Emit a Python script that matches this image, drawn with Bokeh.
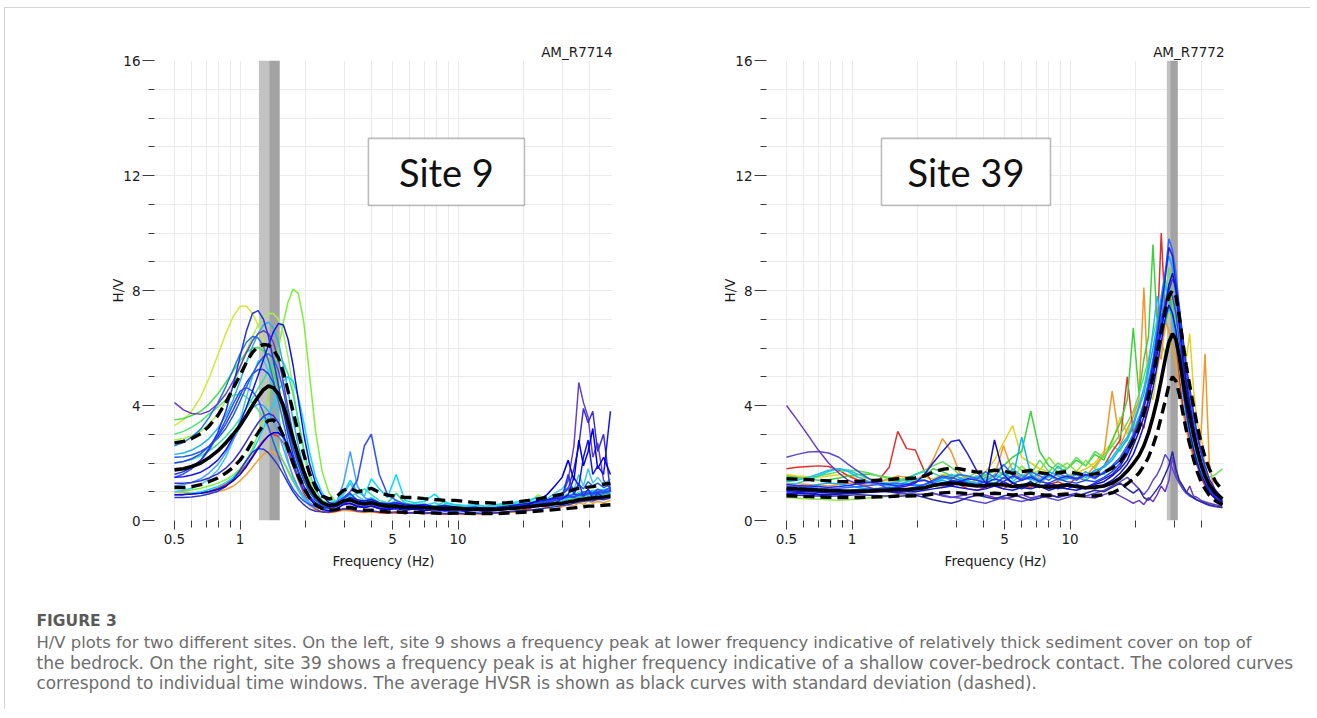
from bokeh.plotting import figure
from bokeh.layouts import column, row
from bokeh.models import Range1d, FixedTicker, BoxAnnotation, Label, CustomJSTickFormatter, Spacer
from bokeh.embed import file_html
from bokeh.resources import INLINE
from bokeh.core.properties import value

# ---------------- ticks ----------------
X_MAJOR = [0.5, 1, 5, 10]
X_MINOR = [0.6, 0.7, 0.8, 0.9, 2, 3, 4, 6, 7, 8, 9, 20, 30, 40]
Y_MAJOR = [0, 4, 8, 12, 16]
Y_MINOR = [1, 2, 3, 5, 6, 7, 9, 10, 11, 13, 14, 15]

# ---------------- left panel (site 9) ----------------
FL = [0.5, 0.55, 0.6, 0.66, 0.72, 0.79, 0.86, 0.93, 1.0, 1.07,
      1.14, 1.21, 1.28, 1.35, 1.42, 1.5, 1.58, 1.66, 1.75, 1.85,
      1.96, 2.08, 2.22, 2.38, 2.56, 2.76, 2.98, 3.2, 3.45, 3.72,
      4.0, 4.35, 4.75, 5.2, 5.7, 6.3, 7.0, 7.8, 8.7, 9.7,
      10.8, 12.0, 13.4, 15.0, 16.8, 18.8, 21.0, 23.3, 25.6, 27.8,
      30.0, 32.0, 34.0, 35.8, 37.6, 39.5, 41.5, 43.7, 46.5, 50.0]

L_MEAN = [1.76, 1.80, 1.88, 2.00, 2.18, 2.42, 2.70, 3.00, 3.30, 3.65,
          4.00, 4.30, 4.55, 4.68, 4.62, 4.40, 4.00, 3.45, 2.85, 2.25,
          1.70, 1.20, 0.85, 0.62, 0.52, 0.55, 0.68, 0.72, 0.62, 0.58,
          0.62, 0.55, 0.50, 0.50, 0.46, 0.48, 0.45, 0.44, 0.42, 0.43,
          0.40, 0.39, 0.40, 0.38, 0.42, 0.44, 0.48, 0.52, 0.55, 0.58,
          0.60, 0.64, 0.68, 0.72, 0.74, 0.76, 0.78, 0.80, 0.82, 0.85]
L_UP = [2.70, 2.75, 2.85, 3.02, 3.28, 3.65, 4.10, 4.60, 5.05, 5.50,
        5.85, 6.05, 6.12, 6.10, 5.95, 5.65, 5.15, 4.50, 3.80, 3.05,
        2.30, 1.65, 1.15, 0.85, 0.75, 0.82, 1.05, 1.12, 1.00, 1.05,
        1.12, 0.98, 0.88, 0.85, 0.80, 0.80, 0.76, 0.73, 0.70, 0.70,
        0.66, 0.62, 0.62, 0.60, 0.62, 0.65, 0.70, 0.75, 0.80, 0.86,
        0.92, 1.00, 1.08, 1.12, 1.15, 1.16, 1.18, 1.22, 1.26, 1.30]
L_LO = [1.15, 1.15, 1.18, 1.25, 1.35, 1.48, 1.65, 1.85, 2.10, 2.40,
        2.75, 3.05, 3.32, 3.48, 3.50, 3.30, 2.95, 2.50, 2.00, 1.55,
        1.15, 0.80, 0.55, 0.42, 0.36, 0.38, 0.45, 0.46, 0.40, 0.36,
        0.36, 0.33, 0.30, 0.30, 0.28, 0.29, 0.27, 0.26, 0.25, 0.26,
        0.25, 0.24, 0.25, 0.24, 0.26, 0.28, 0.30, 0.33, 0.35, 0.38,
        0.40, 0.42, 0.44, 0.46, 0.48, 0.50, 0.50, 0.51, 0.53, 0.55]

L_COLORS = ["#d4e838", "#7ef03c", "#f5a030", "#e03428", "#a6f050", "#4cdc4c",
            "#50e678", "#32e0a0", "#00dcff", "#3cc8f0", "#1eb4e6", "#46a0ff",
            "#1e78e6", "#6840c8", "#283cc8", "#3a30d0", "#3050ff", "#2846f0",
            "#1e64dc", "#1414f0", "#0000e6", "#2233e6"]
L_CURVES = [
    # yellow
    [3.30, 3.50, 3.80, 4.30, 4.95, 5.75, 6.50, 7.10, 7.45, 7.45,
     7.20, 6.80, 6.25, 5.60, 4.95, 4.25, 3.60, 3.00, 2.45, 1.95,
     1.50, 1.15, 0.88, 0.70, 0.60, 0.62, 0.70, 0.66, 0.58, 0.60,
     0.66, 0.55, 0.50, 0.56, 0.48, 0.52, 0.47, 0.50, 0.44, 0.48,
     0.42, 0.45, 0.40, 0.44, 0.50, 0.47, 0.55, 0.60, 0.72, 0.65,
     0.70, 0.78, 0.74, 0.85, 0.80, 0.92, 0.86, 0.95, 0.90, 0.98],
    # green (tallest, late peak)
    [1.00, 1.02, 1.06, 1.12, 1.20, 1.30, 1.42, 1.58, 1.80, 2.10,
     2.50, 3.00, 3.60, 4.30, 5.10, 6.00, 6.90, 7.60, 8.05, 7.90,
     6.90, 5.10, 3.10, 1.70, 0.95, 0.65, 0.60, 0.70, 0.55, 0.52,
     0.60, 0.48, 0.45, 0.72, 0.48, 0.44, 0.52, 0.40, 0.46, 0.38,
     0.42, 0.36, 0.45, 0.40, 0.58, 0.48, 0.62, 0.55, 0.68, 0.60,
     0.75, 0.66, 0.82, 0.70, 0.85, 0.78, 0.90, 0.80, 0.85, 0.92],
    # orange (low)
    [1.00, 0.98, 0.96, 0.95, 0.96, 1.00, 1.08, 1.20, 1.38, 1.60,
     1.85, 2.10, 2.30, 2.40, 2.38, 2.25, 2.05, 1.75, 1.40, 1.05,
     0.75, 0.52, 0.38, 0.30, 0.28, 0.30, 0.36, 0.34, 0.30, 0.28,
     0.30, 0.26, 0.25, 0.28, 0.24, 0.26, 0.24, 0.25, 0.22, 0.24,
     0.22, 0.25, 0.23, 0.26, 0.30, 0.28, 0.34, 0.38, 0.45, 0.40,
     0.48, 0.55, 0.50, 0.62, 0.56, 0.68, 0.60, 0.66, 0.62, 0.70],
    # red
    [0.90, 0.90, 0.92, 0.96, 1.02, 1.12, 1.26, 1.45, 1.68, 1.95,
     2.25, 2.55, 2.78, 2.95, 3.00, 2.92, 2.70, 2.35, 1.90, 1.40,
     0.95, 0.60, 0.40, 0.30, 0.28, 0.32, 0.40, 0.38, 0.32, 0.30,
     0.32, 0.28, 0.26, 0.28, 0.25, 0.26, 0.24, 0.26, 0.22, 0.24,
     0.22, 0.24, 0.22, 0.26, 0.30, 0.34, 0.40, 0.55, 0.48, 0.60,
     0.55, 0.65, 0.62, 0.70, 0.68, 0.75, 0.72, 0.80, 0.78, 0.85],
    # yellow-green
    [2.80, 2.85, 2.95, 3.10, 3.35, 3.70, 4.15, 4.70, 5.30, 5.90,
     6.40, 6.80, 7.05, 7.20, 7.20, 7.00, 6.50, 5.70, 4.60, 3.40,
     2.30, 1.45, 0.90, 0.62, 0.55, 0.60, 0.72, 0.78, 0.70, 0.64,
     0.70, 0.62, 0.56, 0.60, 0.54, 0.56, 0.50, 0.52, 0.48, 0.50,
     0.46, 0.48, 0.44, 0.48, 0.52, 0.56, 0.62, 0.90, 0.70, 0.80,
     0.84, 0.88, 0.86, 0.94, 0.90, 0.98, 0.95, 1.02, 1.00, 1.05],
    # green
    [3.50, 3.55, 3.65, 3.80, 4.05, 4.40, 4.80, 5.20, 5.55, 5.85,
     6.00, 6.02, 5.90, 5.60, 5.15, 4.55, 3.85, 3.15, 2.50, 1.90,
     1.40, 1.02, 0.75, 0.60, 0.52, 0.56, 0.66, 0.70, 0.62, 0.58,
     0.64, 0.56, 0.60, 0.95, 0.62, 0.52, 0.56, 0.50, 0.55, 0.48,
     0.46, 0.50, 0.45, 0.48, 0.52, 0.56, 0.62, 0.66, 0.70, 0.75,
     0.82, 0.78, 0.88, 0.85, 0.92, 0.90, 0.96, 0.94, 1.00, 1.02],
    # mint green (early low peak)
    [3.00, 3.10, 3.25, 3.45, 3.70, 3.95, 4.20, 4.35, 4.40, 4.30,
     4.10, 3.85, 3.55, 3.20, 2.85, 2.45, 2.05, 1.70, 1.35, 1.05,
     0.80, 0.62, 0.50, 0.45, 0.48, 0.56, 0.70, 0.74, 0.62, 0.58,
     0.64, 0.56, 0.52, 0.60, 0.50, 0.54, 0.48, 0.52, 0.46, 0.50,
     0.45, 0.48, 0.44, 0.47, 0.52, 0.55, 0.60, 0.66, 0.72, 0.80,
     0.86, 0.92, 0.88, 1.00, 0.95, 1.05, 1.00, 1.10, 1.05, 1.12],
    # teal-green
    [2.00, 2.05, 2.12, 2.25, 2.42, 2.65, 2.92, 3.22, 3.55, 3.90,
     4.25, 4.60, 4.90, 5.20, 5.45, 5.60, 5.50, 5.10, 4.40, 3.50,
     2.50, 1.65, 1.05, 0.70, 0.58, 0.62, 0.78, 0.85, 0.95, 1.10,
     0.90, 0.70, 0.62, 0.95, 0.60, 0.55, 0.58, 0.50, 0.65, 0.52,
     0.48, 0.50, 0.46, 0.52, 0.56, 0.60, 0.64, 0.70, 0.66, 0.74,
     0.80, 0.76, 0.90, 0.85, 0.95, 0.88, 1.00, 0.92, 1.05, 1.10],
    # cyan
    [0.90, 0.92, 0.95, 1.00, 1.08, 1.18, 1.32, 1.50, 1.75, 2.05,
     2.40, 2.80, 3.20, 3.62, 4.05, 4.50, 4.85, 5.00, 4.85, 4.30,
     3.40, 2.40, 1.50, 0.95, 0.70, 0.65, 0.95, 1.40, 1.00, 0.85,
     1.45, 1.10, 0.80, 1.60, 0.70, 0.62, 0.66, 0.92, 0.60, 0.56,
     0.52, 0.55, 0.50, 0.55, 0.60, 0.65, 0.70, 0.78, 0.74, 0.80,
     0.86, 0.82, 0.95, 0.90, 1.00, 0.96, 1.05, 1.00, 1.08, 1.12],
    # sky
    [1.00, 1.05, 1.12, 1.25, 1.45, 1.75, 2.20, 2.80, 3.50, 4.30,
     5.00, 5.55, 5.60, 5.20, 4.50, 3.60, 2.80, 2.10, 1.50, 1.05,
     0.75, 0.55, 0.44, 0.40, 0.42, 0.55, 0.90, 1.30, 0.85, 0.70,
     0.80, 0.62, 0.55, 0.70, 0.50, 0.58, 0.52, 0.62, 0.48, 0.55,
     0.50, 0.56, 0.48, 0.55, 0.62, 0.58, 0.70, 0.82, 0.75, 0.95,
     1.10, 1.40, 1.05, 1.60, 1.20, 1.80, 1.30, 1.50, 1.25, 1.45],
    # cyan-blue
    [2.30, 2.35, 2.45, 2.62, 2.85, 3.20, 3.65, 4.20, 4.85, 5.50,
     6.05, 6.50, 6.80, 6.90, 6.70, 6.20, 5.40, 4.50, 3.50, 2.60,
     1.80, 1.20, 0.80, 0.58, 0.50, 0.56, 0.80, 0.90, 0.70, 0.66,
     0.72, 0.60, 0.55, 0.58, 0.52, 0.50, 0.48, 0.46, 0.50, 0.44,
     0.42, 0.40, 0.44, 0.40, 0.46, 0.50, 0.56, 0.52, 0.60, 0.64,
     0.68, 0.72, 0.70, 0.80, 0.76, 0.84, 0.80, 0.88, 0.92, 0.95],
    # light blue
    [1.20, 1.25, 1.32, 1.45, 1.65, 1.95, 2.35, 2.80, 3.25, 3.65,
     3.92, 4.05, 4.00, 3.80, 3.45, 3.00, 2.50, 2.00, 1.55, 1.15,
     0.85, 0.62, 0.48, 0.42, 0.45, 0.60, 1.30, 2.40, 1.20, 0.80,
     0.70, 0.58, 0.52, 0.50, 0.46, 0.48, 0.44, 0.42, 0.45, 0.40,
     0.38, 0.42, 0.38, 0.40, 0.44, 0.48, 0.52, 0.58, 0.62, 0.70,
     0.74, 0.80, 0.84, 0.92, 0.88, 0.98, 0.94, 1.00, 1.04, 1.08],
    # azure
    [2.60, 2.72, 2.90, 3.18, 3.58, 4.08, 4.65, 5.25, 5.80, 6.20,
     6.40, 6.35, 6.05, 5.55, 4.90, 4.15, 3.40, 2.70, 2.05, 1.50,
     1.05, 0.75, 0.56, 0.46, 0.44, 0.50, 0.66, 0.70, 0.58, 0.54,
     0.60, 0.50, 0.46, 0.50, 0.44, 0.46, 0.42, 0.44, 0.40, 0.42,
     0.38, 0.40, 0.37, 0.40, 0.44, 0.48, 0.52, 0.58, 0.64, 0.70,
     0.76, 0.82, 0.78, 0.88, 0.84, 0.92, 0.88, 0.96, 0.94, 1.00],
    # purple (starts high, spikes near 36 Hz)
    [4.10, 3.85, 3.72, 3.70, 3.80, 4.05, 4.40, 4.85, 5.35, 5.85,
     6.25, 6.50, 6.60, 6.50, 6.20, 5.60, 4.80, 3.90, 3.00, 2.20,
     1.55, 1.05, 0.72, 0.55, 0.48, 0.52, 0.62, 0.60, 0.52, 0.50,
     0.55, 0.46, 0.42, 0.45, 0.40, 0.42, 0.38, 0.40, 0.36, 0.38,
     0.34, 0.36, 0.33, 0.35, 0.38, 0.42, 0.46, 0.50, 0.55, 0.60,
     0.85, 1.40, 2.60, 4.80, 4.10, 3.60, 2.20, 2.70, 1.40, 1.10],
    # dark blue (low)
    [0.80, 0.80, 0.82, 0.86, 0.92, 1.02, 1.18, 1.42, 1.75, 2.10,
     2.38, 2.50, 2.48, 2.35, 2.15, 1.90, 1.60, 1.30, 1.00, 0.75,
     0.55, 0.40, 0.32, 0.30, 0.30, 0.34, 0.42, 0.40, 0.34, 0.32,
     0.34, 0.30, 0.28, 0.30, 0.27, 0.28, 0.26, 0.28, 0.24, 0.26,
     0.24, 0.26, 0.24, 0.27, 0.30, 0.33, 0.36, 0.40, 0.44, 0.48,
     0.52, 0.55, 0.60, 0.64, 0.66, 0.70, 0.68, 0.74, 0.72, 0.78],
    # blue-violet (spiky at high frequency)
    [1.30, 1.30, 1.32, 1.38, 1.48, 1.62, 1.82, 2.08, 2.40, 2.75,
     3.10, 3.40, 3.62, 3.72, 3.65, 3.40, 3.00, 2.50, 1.95, 1.45,
     1.05, 0.75, 0.55, 0.45, 0.42, 0.48, 0.60, 0.58, 0.50, 0.46,
     0.50, 0.42, 0.40, 0.42, 0.38, 0.40, 0.36, 0.38, 0.35, 0.40,
     0.36, 0.38, 0.35, 0.38, 0.42, 0.46, 0.50, 0.56, 0.62, 0.70,
     0.90, 1.10, 1.80, 2.60, 3.90, 3.40, 3.80, 2.40, 3.00, 1.00],
    # blue (spike near 3.9 Hz)
    [1.50, 1.62, 1.80, 2.08, 2.45, 2.95, 3.50, 4.05, 4.50, 4.62,
     4.50, 4.20, 3.75, 3.25, 2.75, 2.25, 1.80, 1.42, 1.10, 0.86,
     0.68, 0.55, 0.48, 0.46, 0.50, 0.62, 0.80, 1.00, 1.40, 2.60,
     3.00, 1.60, 0.90, 0.70, 0.58, 0.52, 0.55, 0.48, 0.50, 0.45,
     0.42, 0.44, 0.40, 0.43, 0.46, 0.50, 0.55, 0.60, 0.65, 0.72,
     0.78, 0.84, 0.92, 0.88, 0.98, 1.04, 0.96, 1.08, 1.02, 1.15],
    # blue
    [2.00, 2.05, 2.15, 2.32, 2.58, 2.92, 3.35, 3.85, 4.35, 4.80,
     5.10, 5.25, 5.25, 5.10, 4.80, 4.35, 3.80, 3.20, 2.55, 1.95,
     1.40, 1.00, 0.72, 0.56, 0.50, 0.55, 0.75, 0.95, 0.70, 0.62,
     0.68, 0.56, 0.52, 0.55, 0.48, 0.50, 0.46, 0.48, 0.44, 0.46,
     0.42, 0.44, 0.40, 0.44, 0.48, 0.52, 0.56, 0.62, 0.68, 0.74,
     0.80, 0.86, 0.82, 0.92, 0.88, 0.96, 0.92, 1.00, 0.98, 1.04],
    # mid blue
    [2.20, 2.22, 2.28, 2.40, 2.58, 2.85, 3.20, 3.65, 4.15, 4.65,
     5.10, 5.45, 5.70, 5.80, 5.65, 5.20, 4.50, 3.70, 2.85, 2.10,
     1.45, 1.00, 0.70, 0.54, 0.48, 0.52, 0.68, 0.76, 0.62, 0.58,
     0.62, 0.54, 0.50, 0.52, 0.46, 0.48, 0.44, 0.46, 0.42, 0.44,
     0.40, 0.42, 0.39, 0.42, 0.46, 0.50, 0.56, 0.62, 0.70, 0.82,
     0.95, 1.15, 1.00, 1.25, 1.10, 1.35, 1.20, 1.30, 1.15, 1.25],
    # royal blue
    [1.50, 1.52, 1.58, 1.68, 1.85, 2.10, 2.45, 2.90, 3.40, 3.95,
     4.50, 5.05, 5.60, 6.10, 6.55, 6.85, 6.80, 6.30, 5.40, 4.20,
     3.00, 2.00, 1.30, 0.85, 0.62, 0.58, 0.70, 0.80, 0.72, 0.68,
     0.74, 0.62, 0.58, 0.62, 0.55, 0.52, 0.55, 0.48, 0.52, 0.46,
     0.44, 0.46, 0.42, 0.45, 0.50, 0.55, 0.60, 0.66, 0.72, 0.78,
     0.75, 0.90, 1.50, 1.20, 2.20, 2.80, 1.60, 1.90, 1.60, 3.80],
    # pure blue (low peak, spiky at high frequency)
    [0.90, 0.90, 0.92, 0.95, 1.00, 1.08, 1.20, 1.38, 1.60, 1.88,
     2.20, 2.50, 2.75, 2.95, 3.05, 3.05, 2.90, 2.60, 2.20, 1.70,
     1.20, 0.80, 0.52, 0.38, 0.34, 0.40, 0.55, 0.60, 0.48, 0.45,
     0.50, 0.42, 0.38, 0.42, 0.36, 0.40, 0.34, 0.38, 0.33, 0.36,
     0.32, 0.36, 0.32, 0.36, 0.40, 0.46, 0.55, 0.70, 0.90, 1.20,
     1.50, 2.10, 1.40, 2.80, 1.90, 2.40, 3.20, 1.80, 2.20, 1.60],
    # blue (early tall peak)
    [1.60, 1.70, 1.85, 2.10, 2.50, 3.05, 3.80, 4.70, 5.70, 6.60,
     7.20, 7.30, 7.00, 6.40, 5.60, 4.70, 3.80, 3.00, 2.30, 1.70,
     1.20, 0.85, 0.62, 0.50, 0.45, 0.50, 0.68, 0.75, 0.60, 0.55,
     0.58, 0.50, 0.46, 0.44, 0.40, 0.45, 0.42, 0.38, 0.40, 0.36,
     0.35, 0.38, 0.34, 0.36, 0.40, 0.44, 0.50, 0.48, 0.62, 0.55,
     0.80, 1.60, 0.90, 1.30, 0.85, 1.10, 0.75, 0.95, 0.80, 0.90],
]
L_BAND = [1.22, 1.36, 1.52]

# ---------------- right panel (site 39) ----------------
FR = [0.5, 0.56, 0.63, 0.7, 0.78, 0.87, 0.96, 1.07, 1.2, 1.33,
      1.48, 1.62, 1.78, 1.95, 2.15, 2.35, 2.6, 2.85, 3.1, 3.4,
      3.75, 4.1, 4.5, 4.95, 5.45, 6.0, 6.6, 7.25, 8.0, 8.8,
      9.7, 10.7, 11.8, 13.0, 14.3, 15.6, 17.0, 18.3, 19.5, 20.7,
      21.8, 22.9, 24.0, 25.1, 26.2, 27.3, 28.4, 29.5, 30.6, 31.7,
      32.9, 34.1, 35.4, 36.8, 38.3, 39.9, 41.6, 43.5, 46.5, 50.0]

R_MEAN = [1.12, 1.10, 1.08, 1.06, 1.04, 1.03, 1.02, 1.02, 1.03, 1.05,
          1.06, 1.08, 1.08, 1.10, 1.14, 1.22, 1.28, 1.30, 1.28, 1.24,
          1.20, 1.22, 1.26, 1.24, 1.18, 1.22, 1.26, 1.20, 1.16, 1.20,
          1.24, 1.18, 1.14, 1.16, 1.20, 1.30, 1.48, 1.72, 1.98, 2.25,
          2.60, 3.05, 3.60, 4.20, 4.90, 5.60, 6.20, 6.50, 6.30, 5.70,
          4.90, 4.20, 3.60, 3.00, 2.45, 1.95, 1.55, 1.25, 0.95, 0.75]
R_UP = [1.45, 1.44, 1.42, 1.40, 1.38, 1.36, 1.35, 1.36, 1.38, 1.40,
        1.42, 1.45, 1.46, 1.48, 1.55, 1.68, 1.78, 1.82, 1.80, 1.74,
        1.68, 1.70, 1.75, 1.72, 1.64, 1.70, 1.74, 1.66, 1.62, 1.66,
        1.70, 1.64, 1.58, 1.62, 1.68, 1.82, 2.05, 2.40, 2.80, 3.20,
        3.70, 4.30, 5.00, 5.80, 6.60, 7.30, 7.80, 8.00, 7.80, 7.10,
        6.20, 5.40, 4.70, 4.00, 3.30, 2.70, 2.20, 1.80, 1.35, 1.05]
R_LO = [0.86, 0.85, 0.83, 0.82, 0.81, 0.80, 0.80, 0.80, 0.81, 0.82,
        0.83, 0.85, 0.85, 0.86, 0.88, 0.92, 0.96, 0.98, 0.96, 0.93,
        0.90, 0.92, 0.95, 0.93, 0.88, 0.92, 0.95, 0.90, 0.87, 0.90,
        0.92, 0.88, 0.85, 0.86, 0.90, 0.96, 1.10, 1.28, 1.45, 1.65,
        1.90, 2.20, 2.60, 3.05, 3.60, 4.15, 4.70, 5.00, 4.85, 4.40,
        3.75, 3.15, 2.65, 2.15, 1.70, 1.35, 1.10, 0.88, 0.68, 0.55]

R_COLORS = ["#8ce63c", "#e6d21e", "#f59628", "#e03030", "#3cd23c", "#64dc64",
            "#20d2c8", "#1eb9f0", "#00b4ff", "#6a3cc8", "#5a4ad2", "#2a2aa0",
            "#3264ff", "#1e50e6", "#2828f0", "#2020e0", "#1010c0", "#0a14dc"]
R_CURVES = [
    # light green
    [0.80, 0.78, 0.75, 0.74, 0.72, 0.70, 0.72, 0.75, 0.78, 0.80,
     0.85, 0.90, 0.95, 1.00, 1.10, 1.20, 1.15, 1.25, 1.35, 1.30,
     1.40, 1.55, 1.50, 1.70, 1.45, 1.90, 1.60, 1.75, 2.20, 1.80,
     2.00, 1.70, 2.10, 1.80, 2.30, 2.60, 2.40, 2.90, 3.20, 3.60,
     4.00, 4.60, 5.00, 5.60, 6.20, 5.80, 6.40, 6.00, 5.40, 4.80,
     4.00, 3.40, 2.90, 2.40, 2.00, 1.70, 1.40, 1.10, 0.88, 0.70],
    # yellow
    [1.60, 1.55, 1.52, 1.50, 1.55, 1.60, 1.58, 1.50, 1.45, 1.40,
     1.38, 1.35, 1.40, 1.45, 1.50, 1.45, 1.60, 1.55, 1.50, 1.45,
     1.55, 1.70, 2.10, 2.70, 3.30, 2.20, 2.00, 1.80, 1.70, 1.60,
     1.55, 1.65, 1.80, 2.00, 2.40, 2.70, 3.60, 3.00, 3.80, 4.10,
     3.60, 4.60, 4.20, 5.20, 6.00, 6.60, 7.20, 7.00, 6.40, 5.80,
     5.20, 5.60, 6.50, 4.60, 3.40, 3.00, 2.00, 1.40, 1.00, 0.75],
    # orange
    [1.30, 1.28, 1.25, 1.22, 1.20, 1.25, 1.30, 1.28, 1.22, 1.35,
     1.45, 1.55, 1.50, 1.40, 1.60, 2.10, 2.85, 2.40, 1.70, 1.35,
     1.30, 1.40, 1.55, 2.60, 1.70, 1.50, 1.80, 1.45, 1.60, 1.40,
     1.50, 1.70, 1.55, 1.90, 2.30, 4.50, 2.60, 3.20, 3.60, 4.20,
     8.10, 4.40, 5.20, 6.00, 5.60, 7.00, 6.60, 6.00, 5.40, 4.60,
     3.80, 3.20, 2.60, 2.20, 1.90, 3.00, 5.80, 2.00, 0.72, 0.58],
    # red
    [1.80, 1.85, 1.88, 1.90, 1.88, 1.75, 1.55, 1.40, 1.35, 1.42,
     1.85, 3.10, 2.50, 2.45, 1.70, 1.30, 1.20, 1.35, 1.25, 1.10,
     1.05, 1.15, 1.25, 1.10, 1.30, 1.20, 1.15, 1.40, 1.25, 1.35,
     1.20, 1.50, 1.40, 1.65, 1.90, 2.40, 2.80, 5.00, 3.00, 3.60,
     3.20, 4.20, 5.40, 6.50, 10.0, 7.20, 8.00, 7.40, 6.20, 5.00,
     4.00, 3.40, 2.80, 2.30, 1.90, 1.50, 1.20, 0.95, 0.75, 0.60],
    # green
    [1.55, 1.50, 1.45, 1.40, 1.42, 1.48, 1.55, 1.60, 1.62, 1.55,
     1.50, 1.45, 1.40, 1.35, 1.55, 1.80, 1.70, 1.55, 1.60, 1.50,
     1.45, 1.60, 1.70, 1.90, 2.20, 2.40, 3.80, 2.40, 1.90, 1.70,
     1.80, 2.10, 1.90, 2.30, 2.10, 2.80, 3.40, 4.20, 6.70, 4.40,
     5.60, 6.40, 9.60, 6.80, 7.60, 8.40, 7.80, 7.20, 6.60, 5.60,
     4.60, 3.80, 3.20, 2.60, 2.20, 1.80, 1.40, 1.10, 0.85, 0.65],
    # green 2
    [1.40, 1.45, 1.50, 1.55, 1.62, 1.70, 1.75, 1.72, 1.65, 1.55,
     1.45, 1.40, 1.48, 1.60, 1.75, 1.90, 2.05, 1.85, 1.60, 1.50,
     1.70, 1.55, 1.80, 1.60, 2.00, 1.75, 1.60, 2.10, 1.70, 2.00,
     1.80, 2.20, 1.90, 2.40, 2.20, 2.60, 3.00, 3.40, 3.80, 4.40,
     5.00, 5.60, 6.40, 7.00, 6.40, 7.60, 8.80, 7.40, 6.80, 5.80,
     4.80, 4.00, 3.30, 2.80, 2.40, 2.00, 1.70, 1.50, 1.60, 1.80],
    # teal
    [1.25, 1.30, 1.40, 1.55, 1.70, 1.80, 1.75, 1.60, 1.45, 1.35,
     1.30, 1.35, 1.45, 1.60, 1.70, 1.65, 1.50, 1.40, 1.30, 1.40,
     1.55, 1.40, 1.30, 1.50, 1.35, 1.60, 1.45, 1.30, 1.55, 1.40,
     1.45, 1.60, 1.40, 1.70, 1.60, 1.90, 2.20, 2.60, 3.00, 3.60,
     4.00, 4.80, 5.40, 6.00, 7.20, 6.80, 7.40, 7.00, 6.40, 5.60,
     4.60, 3.90, 3.20, 2.60, 2.10, 1.70, 1.35, 1.05, 0.82, 0.62],
    # cyan
    [1.35, 1.40, 1.50, 1.62, 1.75, 1.80, 1.70, 1.50, 1.35, 1.25,
     1.20, 1.25, 1.35, 1.45, 1.40, 1.30, 1.45, 1.60, 1.50, 1.40,
     1.50, 1.35, 1.60, 1.45, 1.80, 1.55, 1.40, 1.70, 1.50, 1.90,
     1.60, 1.45, 1.70, 1.50, 1.90, 2.20, 2.60, 2.90, 3.40, 4.00,
     4.60, 5.40, 6.60, 7.80, 7.00, 8.20, 7.60, 7.00, 6.20, 5.40,
     4.40, 3.60, 3.00, 2.50, 2.10, 1.70, 1.35, 1.05, 0.80, 0.62],
    # azure
    [1.05, 1.10, 1.18, 1.25, 1.30, 1.28, 1.22, 1.15, 1.10, 1.08,
     1.12, 1.20, 1.30, 1.25, 1.18, 1.30, 1.40, 1.30, 1.45, 1.35,
     1.30, 1.50, 1.40, 1.65, 1.45, 2.90, 1.60, 1.40, 1.70, 1.55,
     1.45, 1.60, 1.50, 1.75, 1.85, 2.10, 2.50, 2.80, 3.30, 3.90,
     4.40, 5.20, 6.00, 6.80, 7.80, 8.60, 9.20, 8.80, 7.80, 6.60,
     5.40, 4.40, 3.60, 2.90, 2.30, 1.85, 1.45, 1.15, 0.85, 0.62],
    # purple (starts at 4)
    [4.00, 3.50, 2.95, 2.45, 2.00, 1.65, 1.40, 1.25, 1.15, 1.05,
     1.00, 0.95, 0.92, 0.90, 0.92, 0.95, 0.85, 0.80, 0.85, 0.90,
     0.95, 0.88, 0.80, 0.75, 0.82, 0.90, 0.78, 0.85, 0.92, 0.80,
     0.88, 0.95, 0.82, 0.78, 0.90, 1.00, 0.85, 0.72, 0.60, 0.70,
     0.55, 0.80, 0.65, 0.90, 1.20, 1.00, 1.40, 2.20, 1.60, 1.30,
     1.10, 0.95, 1.20, 0.85, 0.80, 0.70, 0.65, 0.60, 0.55, 0.50],
    # violet (high at low frequency)
    [2.20, 2.30, 2.38, 2.40, 2.35, 2.20, 1.95, 1.70, 1.45, 1.25,
     1.10, 1.00, 0.95, 0.92, 0.90, 0.95, 0.88, 0.82, 0.78, 0.72,
     0.65, 0.60, 0.70, 0.80, 0.72, 0.66, 0.75, 0.85, 0.78, 0.70,
     0.80, 0.90, 0.85, 0.95, 1.05, 1.20, 1.35, 1.50, 1.30, 1.10,
     0.90, 1.10, 1.40, 1.60, 1.90, 2.30, 2.10, 1.80, 1.50, 1.30,
     1.10, 0.95, 0.85, 0.78, 0.70, 0.65, 0.58, 0.52, 0.48, 0.45],
    # navy (low)
    [0.90, 0.88, 0.86, 0.85, 0.84, 0.86, 0.88, 0.90, 0.88, 0.86,
     0.85, 0.84, 0.86, 0.88, 0.80, 0.72, 0.65, 0.60, 0.68, 0.80,
     0.88, 0.82, 0.75, 0.85, 0.92, 0.80, 0.70, 0.78, 0.88, 0.82,
     0.90, 0.85, 0.95, 1.05, 1.00, 1.15, 1.30, 1.10, 0.95, 1.10,
     0.80, 0.70, 0.90, 1.10, 1.30, 1.60, 1.90, 2.40, 1.80, 1.40,
     1.20, 1.00, 0.90, 0.80, 0.72, 0.65, 0.60, 0.55, 0.50, 0.45],
    # blue
    [1.20, 1.18, 1.15, 1.12, 1.10, 1.12, 1.15, 1.18, 1.22, 1.25,
     1.28, 1.30, 1.25, 1.20, 1.25, 1.35, 1.50, 1.45, 1.60, 1.55,
     1.45, 1.70, 1.50, 1.95, 1.60, 1.45, 1.70, 1.55, 1.40, 1.65,
     1.50, 1.40, 1.60, 1.45, 1.70, 1.90, 2.20, 2.60, 3.00, 3.50,
     4.10, 4.80, 5.60, 6.60, 7.60, 8.60, 9.80, 9.40, 8.60, 7.40,
     6.20, 5.20, 4.40, 3.60, 2.90, 2.30, 1.75, 1.30, 0.95, 0.70],
    # blue
    [1.10, 1.08, 1.05, 1.02, 1.00, 1.02, 1.05, 1.08, 1.10, 1.12,
     1.15, 1.12, 1.10, 1.15, 1.25, 1.40, 1.55, 1.50, 1.40, 1.30,
     1.25, 1.35, 1.25, 1.50, 1.30, 1.40, 1.55, 1.35, 1.30, 1.45,
     1.35, 1.30, 1.40, 1.35, 1.50, 1.70, 2.00, 2.40, 2.90, 3.40,
     4.00, 4.70, 5.40, 6.20, 7.00, 7.60, 8.00, 7.80, 7.20, 6.20,
     5.40, 4.60, 3.90, 3.20, 2.60, 2.00, 1.55, 1.15, 0.88, 0.66],
    # blue 2
    [1.25, 1.22, 1.20, 1.18, 1.15, 1.18, 1.22, 1.28, 1.32, 1.30,
     1.25, 1.20, 1.25, 1.35, 1.40, 1.30, 1.25, 1.40, 1.35, 1.45,
     1.40, 1.30, 1.45, 1.35, 1.55, 1.40, 1.50, 1.35, 1.60, 1.45,
     1.55, 1.45, 1.60, 1.50, 1.65, 1.85, 2.10, 2.50, 2.90, 3.40,
     4.00, 4.60, 5.20, 6.00, 6.80, 7.40, 8.00, 8.40, 8.20, 7.40,
     6.40, 5.40, 4.60, 3.80, 3.00, 2.40, 1.90, 1.45, 1.05, 0.78],
    # blue (bump at 3 Hz)
    [1.00, 0.98, 0.95, 0.92, 0.90, 0.92, 0.95, 0.98, 1.00, 1.05,
     1.10, 1.15, 1.20, 1.30, 1.60, 2.00, 2.40, 2.75, 2.80, 2.30,
     1.70, 1.30, 1.20, 1.35, 1.20, 1.10, 1.25, 1.15, 1.30, 1.20,
     1.10, 1.25, 1.15, 1.30, 1.45, 1.60, 1.90, 2.30, 2.80, 3.30,
     3.90, 4.60, 5.40, 6.40, 7.40, 8.40, 9.50, 9.20, 8.20, 7.00,
     5.80, 4.90, 4.10, 3.30, 2.60, 2.00, 1.50, 1.10, 0.80, 0.60],
    # deep blue (spike at 4.5 Hz)
    [1.05, 1.02, 1.00, 0.98, 0.96, 0.95, 0.96, 0.98, 1.00, 1.02,
     1.00, 0.98, 1.05, 1.10, 1.15, 1.20, 1.25, 1.20, 1.35, 1.25,
     1.20, 1.15, 2.80, 1.60, 1.30, 1.20, 1.35, 1.15, 1.25, 1.10,
     1.20, 1.15, 1.10, 1.25, 1.35, 1.55, 1.80, 2.10, 2.60, 3.10,
     3.60, 4.20, 5.00, 5.80, 6.60, 7.40, 8.20, 8.60, 8.00, 6.80,
     5.60, 4.80, 4.00, 3.30, 2.60, 2.05, 1.60, 1.20, 0.90, 0.65],
    # blue
    [0.95, 0.94, 0.92, 0.90, 0.90, 0.92, 0.94, 0.96, 0.98, 1.00,
     1.02, 1.05, 1.02, 1.00, 1.05, 1.10, 1.15, 1.20, 1.15, 1.10,
     1.05, 1.10, 1.20, 1.10, 1.05, 1.15, 1.10, 1.20, 1.05, 1.15,
     1.10, 1.05, 1.15, 1.10, 1.25, 1.40, 1.65, 1.95, 2.30, 2.80,
     3.30, 3.90, 4.60, 5.40, 6.20, 7.00, 7.50, 7.20, 6.60, 5.60,
     4.60, 3.80, 3.10, 2.50, 2.00, 1.60, 1.30, 1.00, 0.75, 0.55],
]
R_BAND = [27.8, 28.8, 31.2]

CAPTION = [
    "FIGURE 3",
    "H/V plots for two different sites. On the left, site 9 shows a frequency peak at lower frequency indicative of relatively thick sediment cover on top of",
    "the bedrock. On the right, site 39 shows a frequency peak is at higher frequency indicative of a shallow cover-bedrock contact. The colored curves",
    "correspond to individual time windows. The average HVSR is shown as black curves with standard deviation (dashed).",
]

GRID = "#ebebeb"
TICK = "#3c3c3c"
TXT = "#1c1c1c"
AX_FONT = "DejaVu Sans"


def panel(width, min_left, min_right, freq, mean, up, lo, curves, colors,
          band, station, site, box, text_xy):
    p = figure(width=width, height=572, x_axis_type="log",
               x_range=Range1d(0.405, 51.1), y_range=Range1d(0, 16),
               output_backend="svg", toolbar_location=None,
               min_border_left=min_left, min_border_right=min_right,
               min_border_top=52, min_border_bottom=60)
    p.outline_line_color = None
    p.background_fill_color = "white"
    p.border_fill_color = "white"

    p.title.text = station
    p.title.align = "right"
    p.title.text_font = AX_FONT
    p.title.text_font_size = "13.5px"
    p.title.text_font_style = "normal"
    p.title.text_color = TXT
    p.title.standoff = 2

    xa = p.xaxis[0]
    ya = p.yaxis[0]
    xa.ticker = FixedTicker(ticks=X_MAJOR, minor_ticks=X_MINOR)
    xa.formatter = CustomJSTickFormatter(code="return tick.toString();")
    ya.ticker = FixedTicker(ticks=Y_MAJOR, minor_ticks=Y_MINOR)
    for ax in (xa, ya):
        ax.axis_line_color = None
        ax.major_tick_line_color = TICK
        ax.minor_tick_line_color = TICK
        ax.major_tick_in = 0
        ax.minor_tick_in = 0
        ax.major_label_text_font = AX_FONT
        ax.major_label_text_font_size = "13.5px"
        ax.major_label_text_color = TXT
        ax.axis_label_text_font = AX_FONT
        ax.axis_label_text_font_size = "13.5px"
        ax.axis_label_text_font_style = "normal"
        ax.axis_label_text_color = TXT
    xa.major_tick_out = 9
    xa.minor_tick_out = 7
    xa.major_label_standoff = 4
    xa.axis_label = "Frequency (Hz)"
    xa.axis_label_standoff = 6
    ya.major_tick_out = 12
    ya.minor_tick_out = 6
    ya.major_label_standoff = 2
    ya.axis_label = "H/V"
    ya.axis_label_standoff = -6

    for g in (p.xgrid[0], p.ygrid[0]):
        g.grid_line_color = GRID
        g.minor_grid_line_color = GRID
        g.grid_line_width = 1
        g.minor_grid_line_width = 1

    p.add_layout(BoxAnnotation(left=band[0], right=band[1], fill_color="#c2c2c2",
                               fill_alpha=1, line_color=None, level="underlay"))
    p.add_layout(BoxAnnotation(left=band[1], right=band[2], fill_color="#a3a3a3",
                               fill_alpha=1, line_color=None, level="underlay"))

    xs, ys = [], []
    for c in curves:
        n = min(len(freq), len(c))
        xs.append(freq[:n])
        ys.append(c[:n])
    p.multi_line(xs=xs, ys=ys, line_color=colors[:len(xs)], line_width=1.5)

    p.line(freq, up, line_color="black", line_width=3.4, line_dash="11 6")
    p.line(freq, lo, line_color="black", line_width=3.4, line_dash="11 6")
    p.line(freq, mean, line_color="black", line_width=3.6)

    p.add_layout(BoxAnnotation(left=box[0], right=box[1], bottom=box[2], top=box[3],
                               fill_color="white", fill_alpha=1,
                               line_color="#222222", line_width=1.6))
    p.add_layout(Label(x=text_xy[0], y=text_xy[1], text=site, text_font="Lato",
                       text_font_size="38px", text_align="center",
                       text_baseline="middle", text_color="#111111"))
    return p


p1 = panel(612, 149, 5, FL, L_MEAN, L_UP, L_LO, L_CURVES, L_COLORS, L_BAND,
           "AM_R7714", "Site 9", (3.88, 20.16, 10.96, 13.29), (8.84, 12.12))
p2 = panel(693, 149, 86, FR, R_MEAN, R_UP, R_LO, R_CURVES, R_COLORS, R_BAND,
           "AM_R7772", "Site 39", (1.364, 8.13, 10.96, 13.29), (3.33, 12.12))

cap = figure(width=1305, height=129, x_range=Range1d(0, 1305), y_range=Range1d(129, 0),
             output_backend="svg", toolbar_location=None, min_border=0,
             x_axis_location=None, y_axis_location=None)
cap.grid.visible = False
cap.outline_line_color = None
cap.text(x=[31], y=[40], text=[CAPTION[0]], text_font=value("DejaVu Sans"),
         text_font_size="15.5px", text_font_style="bold", text_color="#5a5a5a",
         text_baseline="middle", text_align="left")
for txt, ty, fs in zip(CAPTION[1:], [62, 82, 102], ["16.4px", "17.1px", "16.9px"]):
    cap.text(x=[31], y=[ty], text=[txt], text_font=value("DejaVu Sans"),
             text_font_size=fs, text_color="#6e6e6e",
             text_baseline="middle", text_align="left")

inner = column(row(p1, p2), cap, styles={"border-left": "1px solid #d4d4d4",
                                         "border-top": "1px solid #d4d4d4"})
layout = column(Spacer(height=7), row(Spacer(width=4), inner))

open("out.html", "w").write(file_html(layout, INLINE))
